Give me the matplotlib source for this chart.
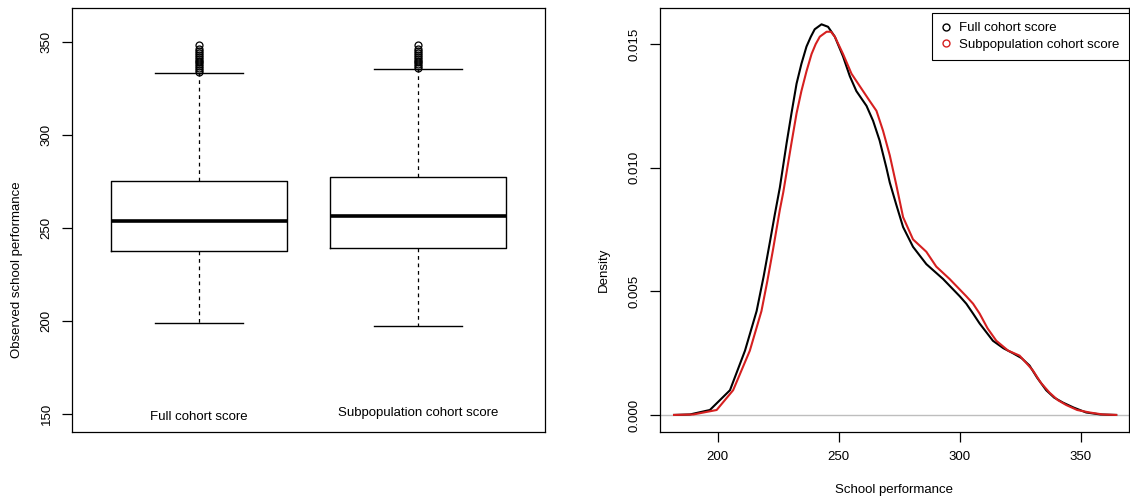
import matplotlib.pyplot as plt
from matplotlib.lines import Line2D

plt.rcParams['font.family'] = ['Liberation Sans', 'DejaVu Sans']

# boxplot summary
box_labels = ['Full cohort score', 'Subpopulation cohort score']
q1 = [237.6, 239.2]
med = [253.8, 256.5]
q3 = [275.3, 277.4]
whislo = [198.9, 197.3]
whishi = [333.3, 335.5]
fliers = [
    [334, 335, 336, 337, 338, 339, 340, 341, 342, 343, 344, 345, 346, 348.4],
    [336, 337, 338, 339, 340, 341, 342, 343, 344, 345, 346, 348.5],
]
label_y = [148.6, 150.3]

# density curves
full_x = [182, 188.6, 196.8, 205.1, 211.3, 216.1, 219.0, 221.6, 223.6, 225.7, 228.5,
          230.5, 232.6, 234.6, 236.7, 238.5, 240.1, 242.9, 245.6, 248.4, 251.8,
          254.6, 257.3, 261.5, 264.2, 266.9, 269.7, 271.1, 273.8, 276.6, 280.7,
          286.2, 293.1, 300.0, 302.7, 305.5, 308.2, 313.7, 318.0, 321.9, 325.5,
          328.8, 332.0, 335.7, 339.0, 342.6, 347.0, 352.2, 358.0, 364.6]
full_y = [0.0, 0.00002, 0.0002, 0.0010, 0.0026, 0.0042, 0.0056, 0.0070, 0.0081, 0.0092, 0.0110,
          0.0122, 0.0134, 0.0142, 0.0149, 0.0153, 0.0156, 0.0158, 0.0157, 0.0153, 0.0145,
          0.0137, 0.0131, 0.0125, 0.0119, 0.0111, 0.0100, 0.0094, 0.0085, 0.0076, 0.0068,
          0.0061, 0.0055, 0.0048, 0.0045, 0.0041, 0.0037, 0.0030, 0.0027, 0.0025, 0.0023,
          0.0020, 0.0015, 0.0010, 0.0007, 0.0005, 0.0003, 0.0001, 0.00002, 0.0]
sub_x = [182, 190.0, 199.6, 206.4, 213.3, 218.1, 220.5, 222.9, 225.7, 227.1, 230.5,
         232.6, 234.6, 236.7, 238.8, 240.5, 242.2, 245.0, 246.8, 248.4, 251.8,
         255.3, 258.7, 262.8, 265.6, 268.3, 271.1, 273.8, 276.6, 280.7, 286.2,
         290.3, 295.8, 302.7, 305.5, 308.2, 311.5, 315.1, 320.0, 324.7, 327.5,
         330.2, 333.5, 337.1, 340.5, 344.0, 348.5, 353.6, 359.0, 364.6]
sub_y = [0.0, 0.00002, 0.0002, 0.0010, 0.0026, 0.0042, 0.0054, 0.0067, 0.0083, 0.0090, 0.0110,
         0.0122, 0.0131, 0.0139, 0.0146, 0.0150, 0.0153, 0.0155, 0.0155, 0.0153, 0.0146,
         0.0138, 0.0133, 0.0127, 0.0123, 0.0115, 0.0105, 0.0093, 0.0080, 0.0071, 0.0066,
         0.0060, 0.0055, 0.0048, 0.0045, 0.0041, 0.0035, 0.0030, 0.0026, 0.0024, 0.0021,
         0.0018, 0.0013, 0.0009, 0.0006, 0.0004, 0.0002, 0.0001, 0.00002, 0.0]
legend_labels = ['Full cohort score', 'Subpopulation cohort score']
colors = ['black', '#d62020']

fs = 9.5
fig = plt.figure(figsize=(11.3, 5.0), dpi=100)
ax1 = fig.add_axes([72 / 1130, 68 / 500, 473 / 1130, 424 / 500])
ax2 = fig.add_axes([660 / 1130, 68 / 500, 469 / 1130, 424 / 500])

stats = []
for i in range(2):
    stats.append(dict(q1=q1[i], med=med[i], q3=q3[i], whislo=whislo[i],
                      whishi=whishi[i], fliers=fliers[i]))
ax1.bxp(stats, positions=[1, 2], widths=0.8,
        boxprops=dict(color='black', linewidth=1),
        medianprops=dict(color='black', linewidth=2.6),
        whiskerprops=dict(color='black', linewidth=0.9, linestyle=(0, (3, 3))),
        capprops=dict(color='black', linewidth=1),
        capwidths=0.4,
        flierprops=dict(marker='o', markerfacecolor='none', markeredgecolor='black',
                        markersize=5, markeredgewidth=0.9))
for i in range(2):
    ax1.text(i + 1, label_y[i], box_labels[i], ha='center', va='center', fontsize=fs)
ax1.set_xlim(0.42, 2.58)
ax1.set_ylim(140.3, 368.3)
ax1.set_xticks([])
ax1.set_yticks([150, 200, 250, 300, 350])

ax2.axhline(0, color='#bebebe', linewidth=1)
ax2.plot(full_x, full_y, color=colors[0], linewidth=1.5)
ax2.plot(sub_x, sub_y, color=colors[1], linewidth=1.5)
ax2.set_xlim(176.2, 369.9)
ax2.set_ylim(-0.00069, 0.01646)
ax2.set_xticks([200, 250, 300, 350])
ax2.set_yticks([0.0, 0.005, 0.010, 0.015])
ax2.set_yticklabels(['0.000', '0.005', '0.010', '0.015'])

handles = [Line2D([], [], linestyle='none', marker='o', markerfacecolor='none',
                  markeredgecolor=c, markersize=5) for c in colors]
leg = ax2.legend(handles, legend_labels, loc='upper right',
                 bbox_to_anchor=(1.0, 1 - 5 / 424), borderaxespad=0,
                 fancybox=False, framealpha=1, edgecolor='black', fontsize=fs,
                 handlelength=0.8, handletextpad=0.6, labelspacing=0.3,
                 borderpad=0.7)
leg.get_frame().set_linewidth(0.8)

for ax in (ax1, ax2):
    for s in ax.spines.values():
        s.set_linewidth(0.9)
    ax.tick_params(length=7, width=0.9, labelsize=fs, pad=7)
    ax.tick_params(axis='y', labelrotation=90)
    for t in ax.get_yticklabels():
        t.set_va('center')

fig.text(17 / 1130, 0.5 - 20 / 500, 'Observed school performance', rotation=90,
         ha='center', va='center', fontsize=fs)
fig.text(604 / 1130, 0.5 - 20 / 500, 'Density', rotation=90,
         ha='center', va='center', fontsize=fs)
fig.text(894 / 1130, 10 / 500, 'School performance', ha='center', va='center', fontsize=fs)

fig.savefig('out.png', dpi=100)
